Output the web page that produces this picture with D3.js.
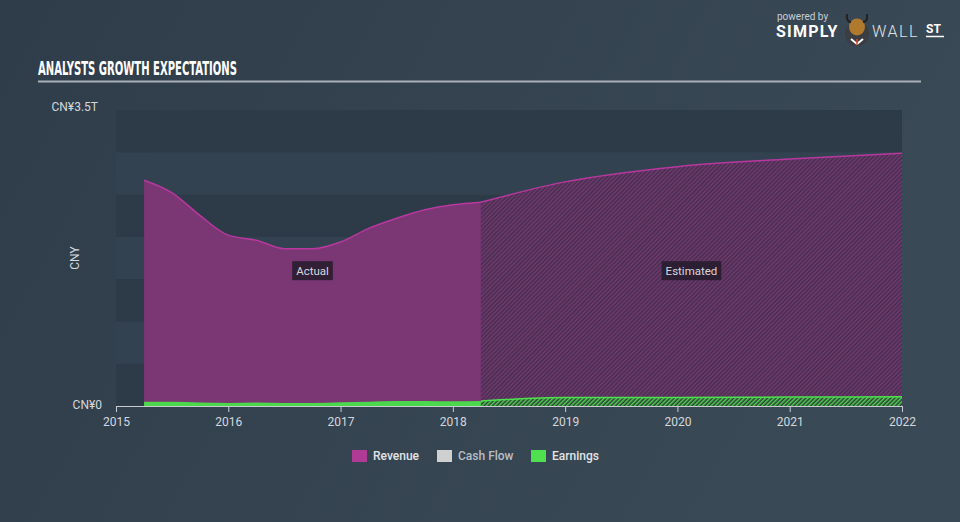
<!DOCTYPE html>
<html>
<head>
<meta charset="utf-8">
<script src="https://cdn.jsdelivr.net/npm/d3@7"></script>
<style>
  html, body { margin: 0; padding: 0; background: #344350; }
  svg { display: block; }
</style>
</head>
<body>
<div id="chart"></div>
<script>
// values in trillion CNY, dates as fractional years
const actualDates = [2015.25, 2015.5, 2015.75, 2016.0, 2016.25, 2016.5, 2016.75, 2017.0, 2017.25, 2017.5, 2017.75, 2018.0, 2018.25];
const revenueActual = [2.67, 2.52, 2.25, 2.02, 1.96, 1.86, 1.86, 1.94, 2.10, 2.22, 2.32, 2.38, 2.41];
const earningsActual = [0.05, 0.05, 0.04, 0.035, 0.04, 0.035, 0.035, 0.045, 0.05, 0.06, 0.06, 0.055, 0.06];

const estimateDates = [2018.25, 2019, 2020, 2021, 2022];
const revenueEstimate = [2.41, 2.65, 2.83, 2.92, 2.99];
const earningsEstimate = [0.06, 0.1, 0.1, 0.105, 0.11];

const yearTicks = [2015, 2016, 2017, 2018, 2019, 2020, 2021, 2022];
const legendItems = ['Revenue', 'Cash Flow', 'Earnings'];
const legendColors = ['#b03a96', '#d0d0d0', '#4fe04f'];

const width = 960, height = 522;
const margin = { left: 116, right: 58, top: 110, bottom: 116 };

const svg = d3.select('#chart').append('svg')
    .attr('width', width)
    .attr('height', height);

const defs = svg.append('defs');

// background gradient
const bg = defs.append('linearGradient').attr('id', 'bg')
    .attr('x1', '0').attr('y1', '0').attr('x2', '1').attr('y2', '0.3');
bg.append('stop').attr('offset', '0').attr('stop-color', '#2f3d4b');
bg.append('stop').attr('offset', '1').attr('stop-color', '#3a4956');

// hatch patterns for estimates
function hatch(id, base, stripe) {
    const p = defs.append('pattern').attr('id', id)
        .attr('patternUnits', 'userSpaceOnUse')
        .attr('width', 3).attr('height', 3)
        .attr('patternTransform', 'rotate(45)');
    p.append('rect').attr('width', 3).attr('height', 3).attr('fill', base);
    p.append('rect').attr('width', 1.5).attr('height', 3).attr('fill', stripe);
}
hatch('hatchRev', '#3d3149', '#7a3674');
hatch('hatchEarn', '#2e3a3a', '#4fd24f');

svg.append('rect').attr('width', width).attr('height', height).attr('fill', 'url(#bg)');

const x = d3.scaleLinear().domain([2015, 2022]).range([margin.left, width - margin.right]);
const y = d3.scaleLinear().domain([0, 3.5]).range([height - margin.bottom, margin.top]);

// horizontal bands
const bands = d3.range(0, 3.5, 0.5);
svg.append('g').selectAll('rect')
    .data(bands)
    .join('rect')
    .attr('x', x(2015))
    .attr('width', x(2022) - x(2015))
    .attr('y', d => y(d + 0.5))
    .attr('height', d => y(d) - y(d + 0.5))
    .attr('fill', (d, i) => i % 2 === 0 ? '#2d3b49' : '#334250');

const area = (xs, vals) => d3.area()
    .x((d, i) => x(xs[i]))
    .y0(y(0))
    .y1(d => y(d))
    .curve(d3.curveMonotoneX)(vals);
const line = (xs, vals) => d3.line()
    .x((d, i) => x(xs[i]))
    .y(d => y(d))
    .curve(d3.curveMonotoneX)(vals);

// revenue
svg.append('path').attr('d', area(actualDates, revenueActual)).attr('fill', '#7b3674');
svg.append('path').attr('d', area(estimateDates, revenueEstimate)).attr('fill', 'url(#hatchRev)');
svg.append('path').attr('d', line(actualDates, revenueActual))
    .attr('fill', 'none').attr('stroke', '#b8389f').attr('stroke-width', 1.5);
svg.append('path').attr('d', line(estimateDates, revenueEstimate))
    .attr('fill', 'none').attr('stroke', '#b8389f').attr('stroke-width', 1.5);

// earnings
svg.append('path').attr('d', area(actualDates, earningsActual)).attr('fill', '#4cd84c');
svg.append('path').attr('d', area(estimateDates, earningsEstimate)).attr('fill', 'url(#hatchEarn)');
svg.append('path').attr('d', line(estimateDates, earningsEstimate))
    .attr('fill', 'none').attr('stroke', '#4fe04f').attr('stroke-width', 1.5);

// x axis
const xAxis = svg.append('g')
    .attr('transform', `translate(0, ${y(0)})`)
    .call(d3.axisBottom(x).tickValues(yearTicks).tickFormat(d3.format('d')).tickSize(6).tickSizeOuter(0));
xAxis.select('.domain').attr('stroke', '#c8ccd0');
xAxis.selectAll('.tick line').attr('stroke', '#c8ccd0');
xAxis.selectAll('.tick text')
    .attr('fill', '#d5d8db')
    .attr('font-family', 'Roboto, sans-serif')
    .attr('font-size', 12)
    .attr('dy', '0.95em');

// y labels
svg.append('text').attr('x', 98).attr('y', y(3.5) + 1)
    .attr('text-anchor', 'end')
    .attr('fill', '#d5d8db').attr('font-family', 'Roboto, sans-serif').attr('font-size', 12)
    .text('CN¥3.5T');
svg.append('text').attr('x', 102).attr('y', y(0) + 3)
    .attr('text-anchor', 'end')
    .attr('fill', '#d5d8db').attr('font-family', 'Roboto, sans-serif').attr('font-size', 12)
    .text('CN¥0');
svg.append('text')
    .attr('transform', `translate(79, ${(y(0) + y(3.5)) / 2}) rotate(-90)`)
    .attr('text-anchor', 'middle')
    .attr('fill', '#d5d8db').attr('font-family', 'Roboto, sans-serif').attr('font-size', 12)
    .text('CNY');

// Actual / Estimated tags
const tags = [
    { text: 'Actual', cx: (x(actualDates[0]) + x(estimateDates[0])) / 2 },
    { text: 'Estimated', cx: (x(estimateDates[0]) + x(2022)) / 2 }
];
tags.forEach(t => {
    const g = svg.append('g').attr('transform', `translate(${t.cx}, ${y(1.6)})`);
    const label = g.append('text')
        .attr('text-anchor', 'middle')
        .attr('dy', '0.35em')
        .attr('fill', '#d8d8dc')
        .attr('font-family', 'Roboto, sans-serif')
        .attr('font-size', 11.5)
        .text(t.text);
    const bb = label.node().getBBox();
    g.insert('rect', 'text')
        .attr('x', bb.x - 4).attr('y', -9.5)
        .attr('width', bb.width + 8).attr('height', 19)
        .attr('fill', '#251b2b').attr('fill-opacity', 0.85);
});

// title
svg.append('text').attr('x', 38).attr('y', 75)
    .attr('fill', '#ffffff')
    .attr('font-family', '"Liberation Sans Narrow", "DejaVu Sans Condensed", sans-serif')
    .attr('font-weight', 'bold')
    .attr('font-size', 19)
    .attr('textLength', 199)
    .attr('lengthAdjust', 'spacingAndGlyphs')
    .text('ANALYSTS GROWTH EXPECTATIONS');
svg.append('line').attr('x1', 38).attr('x2', 921).attr('y1', 81.5).attr('y2', 81.5)
    .attr('stroke', '#a9b0b7').attr('stroke-width', 2);

// legend
const legend = svg.append('g').attr('transform', 'translate(352, 456)');
const legendX = [0, 85, 179];
legendItems.forEach((name, i) => {
    const g = legend.append('g').attr('transform', `translate(${legendX[i]}, 0)`);
    g.append('rect').attr('x', 0).attr('y', -6).attr('width', 15).attr('height', 12)
        .attr('fill', legendColors[i]);
    g.append('text').attr('x', 21).attr('dy', '0.35em')
        .attr('fill', i === 1 ? '#b9bec3' : '#e2e4e6')
        .attr('font-family', 'Roboto, sans-serif')
        .attr('font-weight', 500)
        .attr('font-size', 12)
        .text(name);
});

// logo
const logo = svg.append('g');
logo.append('text').attr('x', 777).attr('y', 20)
    .attr('fill', '#c9ced3').attr('font-family', 'Roboto, sans-serif').attr('font-size', 10)
    .text('powered by');
logo.append('text').attr('x', 776).attr('y', 37)
    .attr('fill', '#ffffff').attr('font-family', 'Roboto, sans-serif').attr('font-weight', 'bold')
    .attr('font-size', 16).attr('letter-spacing', 1.2)
    .text('SIMPLY');
logo.append('circle').attr('cx', 857).attr('cy', 34).attr('r', 12).attr('fill', '#3a3d42');
logo.append('ellipse').attr('cx', 857).attr('cy', 27).attr('rx', 8).attr('ry', 8.5).attr('fill', '#b07a2e');
logo.append('path').attr('d', 'M847,14 Q846,22 851,22 M867,14 Q868,22 863,22')
    .attr('fill', 'none').attr('stroke', '#222').attr('stroke-width', 2);
logo.append('path').attr('d', 'M851,39 L857,44 L863,39').attr('fill', 'none').attr('stroke', '#fff').attr('stroke-width', 2);
logo.append('line').attr('x1', 857).attr('x2', 857).attr('y1', 39).attr('y2', 45).attr('stroke', '#e04a2a').attr('stroke-width', 1.5);
logo.append('text').attr('x', 872).attr('y', 37)
    .attr('fill', '#e0e3e6').attr('font-family', 'Roboto, sans-serif').attr('font-weight', 300)
    .attr('font-size', 16).attr('letter-spacing', 1.5)
    .text('WALL');
logo.append('text').attr('x', 926).attr('y', 33)
    .attr('fill', '#ffffff').attr('font-family', 'Roboto, sans-serif').attr('font-weight', 'bold')
    .attr('font-size', 12)
    .text('ST');
logo.append('line').attr('x1', 926).attr('x2', 944).attr('y1', 36.5).attr('y2', 36.5)
    .attr('stroke', '#ffffff').attr('stroke-width', 1.5);
</script>
</body>
</html>
